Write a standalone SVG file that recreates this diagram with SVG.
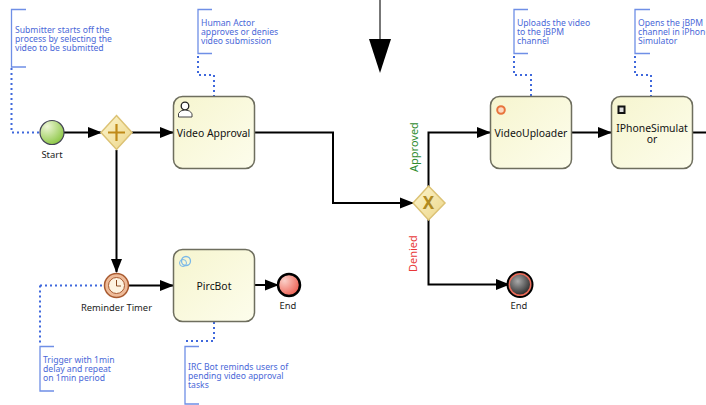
<svg xmlns="http://www.w3.org/2000/svg" width="706" height="405" viewBox="0 0 706 405">
<style>
text{font-family:"Noto Sans","Liberation Sans",sans-serif}
.lbl{font-size:9.400px;fill:#222;text-anchor:middle}
.tl{font-size:10.400px;fill:#111;text-anchor:middle}
.n{font-size:8.650px;fill:#4a68d8}
.b{fill:none;stroke:#6f8fe6;stroke-width:1.300}
.d{fill:none;stroke:#3f68dc;stroke-width:2;stroke-dasharray:2 3}
.f{fill:none;stroke:#000;stroke-width:2}
.t{fill:url(#tg);stroke:#6e6e5e;stroke-width:1.500}
.g{fill:url(#gg);stroke:#dcc274;stroke-width:1.500}
</style>
<defs>
<linearGradient id="tg" x1="0" y1="0" x2="1" y2="1"><stop offset="0" stop-color="#f6f5cf"/><stop offset="1" stop-color="#fdfdec"/></linearGradient>
<linearGradient id="gg" x1="0" y1="0" x2="1" y2="1"><stop offset="0" stop-color="#fdf6cf"/><stop offset="1" stop-color="#ecd587"/></linearGradient>
<radialGradient id="sg" cx=".3" cy=".25" r=".85"><stop offset="0" stop-color="#eef6d6"/><stop offset="1" stop-color="#86c43c"/></radialGradient>
<radialGradient id="eg" cx=".3" cy=".3" r=".8"><stop offset="0" stop-color="#fbd0c8"/><stop offset="1" stop-color="#ec5a4c"/></radialGradient>
<radialGradient id="kg" cx=".4" cy=".35" r=".7"><stop offset="0" stop-color="#aaa"/><stop offset="1" stop-color="#222"/></radialGradient>
<marker id="a" markerUnits="userSpaceOnUse" markerWidth="14" markerHeight="12" refX="13" refY="6" orient="auto"><path d="M0 0.500L14 6L0 11.500Z" fill="#000"/></marker>
</defs>
<g id="connectors">
<path class="f" d="M64 132.500H101" marker-end="url(#a)"/>
<path class="f" d="M132 132.500H173" marker-end="url(#a)"/>
<path class="f" d="M116.500 150V272" marker-end="url(#a)"/>
<path class="f" d="M128 285.500H173" marker-end="url(#a)"/>
<path class="f" d="M255 285H278" marker-end="url(#a)"/>
<path class="f" d="M255 132.500H333V203H413" marker-end="url(#a)"/>
<path class="f" d="M428.500 187V132.500H490" marker-end="url(#a)"/>
<path class="f" d="M571 132.500H611" marker-end="url(#a)"/>
<path class="f" d="M692 132.500H706"/>
<path class="f" d="M428.500 218V284.500H509" marker-end="url(#a)"/>
<path d="M380 0V40" fill="none" stroke="#777" stroke-width="2"/>
<path d="M369 39H391L380 73Z" fill="#000"/>
<path class="d" d="M11.500 68V132.500H40"/>
<path class="d" d="M198 56V75H214V96"/>
<path class="d" d="M40 285.500H104"/>
<path class="d" d="M40 285.500V345"/>
<path class="d" d="M214 322V341H185"/>
<path class="d" d="M514 56V75H531V96"/>
<path class="d" d="M635 56V75H651V96"/>
</g>
<g id="note-start"><path class="b" d="M26 9.500H11.500V67H26"/><text class="n"><tspan x="15" y="33">Submitter starts off the</tspan><tspan x="15" y="42">process by selecting the</tspan><tspan x="15" y="51">video to be submitted</tspan></text></g>
<g id="note-approval"><path class="b" d="M212 9.500H198V53.500H212"/><text class="n"><tspan x="201" y="26">Human Actor</tspan><tspan x="201" y="35">approves or denies</tspan><tspan x="201" y="44">video submission</tspan></text></g>
<g id="note-timer"><path class="b" d="M54 346.500H40V391H54"/><text class="n"><tspan x="43" y="363">Trigger with 1min</tspan><tspan x="43" y="372">delay and repeat</tspan><tspan x="43" y="381">on 1min period</tspan></text></g>
<g id="note-pircbot"><path class="b" d="M199 346.500H185V404H199"/><text class="n"><tspan x="188" y="370">IRC Bot reminds users of</tspan><tspan x="188" y="379">pending video approval</tspan><tspan x="188" y="388">tasks</tspan></text></g>
<g id="note-uploader"><path class="b" d="M528 9.500H514V53.500H528"/><text class="n"><tspan x="517" y="26">Uploads the video</tspan><tspan x="517" y="35">to the jBPM</tspan><tspan x="517" y="44">channel</tspan></text></g>
<g id="note-simulator"><path class="b" d="M650 9.500H635V53.500H650"/><text class="n"><tspan x="638" y="26">Opens the jBPM</tspan><tspan x="638" y="35">channel in iPhone</tspan><tspan x="638" y="44">Simulator</tspan></text></g>
<g id="start"><circle cx="52" cy="132.500" r="12" fill="url(#sg)" stroke="#445" stroke-width="1.200"/><text class="lbl" x="52" y="158">Start</text></g>
<g id="parallel"><path class="g" d="M116.500 115.500L132 132.500L116.500 149.500L101 132.500Z"/><path d="M116.500 124V141M108 132.500H125" stroke="#c08a18" stroke-width="2.200" fill="none"/></g>
<g id="video-approval"><rect class="t" x="173.500" y="96.500" width="81" height="72" rx="9"/><circle cx="185" cy="106" r="3.800" fill="#fff" stroke="#222" stroke-width="1.300"/><path d="M178.500 117V113.500Q180 110 185 110Q190 110 192 113.500V117Z" fill="#fff" stroke="#444"/><text class="tl" x="213.500" y="137">Video Approval</text></g>
<g id="timer"><circle cx="116.500" cy="285.500" r="12" fill="#eebb99" stroke="#a85a30" stroke-width="1.500"/><circle cx="116.500" cy="285.500" r="8" fill="#fdf3e0" stroke="#a85a30"/><path d="M116.500 280V286H121" fill="none" stroke="#8a4a20"/><text class="lbl" x="116.500" y="311">Reminder Timer</text></g>
<g id="pircbot"><rect class="t" x="173.500" y="249.500" width="81" height="72" rx="9"/><circle cx="186" cy="261" r="4.500" fill="none" stroke="#7ab8e8" stroke-width="1.300"/><circle cx="183" cy="263" r="3.500" fill="none" stroke="#7ab8e8"/><text class="tl" x="214" y="290">PircBot</text></g>
<g id="end-1"><circle cx="289" cy="285" r="11" fill="url(#eg)" stroke="#000" stroke-width="2.500"/><text class="lbl" x="288" y="309">End</text></g>
<g id="xor"><path class="g" d="M428.500 186L445 203L428.500 220L413 203Z"/><text x="428.500" y="209" font-size="17" font-weight="700" fill="#b08a20" text-anchor="middle">X</text></g>
<g id="label-approved"><text transform="translate(418 172) rotate(-90)" font-size="11" fill="#2e8b2e">Approved</text></g>
<g id="label-denied"><text transform="translate(417 272) rotate(-90)" font-size="11" fill="#e83838">Denied</text></g>
<g id="video-uploader"><rect class="t" x="490.500" y="96.500" width="81" height="72" rx="9"/><circle cx="501" cy="110" r="3.800" fill="#fbd9c0" stroke="#e8743c" stroke-width="2"/><text class="tl" x="531" y="137">VideoUploader</text></g>
<g id="iphone-simulator"><rect class="t" x="611.500" y="96.500" width="81" height="72" rx="9"/><rect x="618.500" y="106.500" width="6" height="6.500" fill="#ddd" stroke="#111" stroke-width="2"/><text class="tl"><tspan x="652" y="132">IPhoneSimulat</tspan><tspan x="652" y="143">or</tspan></text></g>
<g id="end-2"><circle cx="520" cy="284.500" r="11" fill="url(#kg)" stroke="#ea6a58" stroke-width="2"/><circle cx="520" cy="284.500" r="12.500" fill="none" stroke="#000" stroke-width="2"/><text class="lbl" x="519" y="309">End</text></g>
</svg>
